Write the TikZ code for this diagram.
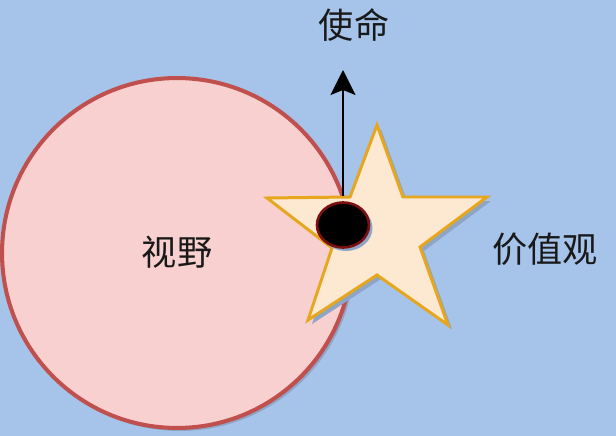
\documentclass[tikz,border=0pt]{standalone}
\usepackage{fontspec}
\setmainfont{Noto Sans CJK SC}
\usetikzlibrary{positioning}
\usetikzlibrary{arrows.meta}
\definecolor{bgblue}{HTML}{A6C3EA}
\definecolor{shadowblue}{HTML}{8DA5C6}
\definecolor{ringred}{HTML}{C0504D}
\definecolor{pinkfill}{HTML}{F7D0CF}
\definecolor{stargold}{HTML}{E6A71E}
\definecolor{starfill}{HTML}{FDE8D2}
\definecolor{dotrim}{HTML}{7A1010}
\tikzset{
	label/.style={font=\fontsize{20pt}{24pt}\selectfont, text=black!90, inner sep=0pt},
	ring/.style={draw=ringred, fill=pinkfill, line width=2.3pt},
	starline/.style={draw=stargold, fill=starfill, line width=1.7pt, line join=miter},
	pointer/.style={-{Stealth[length=5mm,width=5mm,inset=1mm]}, line width=1.1pt},
}

\begin{document}
\begin{tikzpicture}[x=0.02cm,y=-0.02cm]
	% background
	\fill[bgblue] (0,0) rectangle (616,436);
	\useasboundingbox (0,0) rectangle (616,436);
	
	% circle
	\fill[shadowblue] (180,256) circle [radius=3.5cm];
	\draw[ring] (177,253) circle [radius=3.5cm];
	\node[label] (vision) at (177,252) {视野};
	
	% star
	\fill[shadowblue] (381,129) -- (407,201) -- (491,201) -- (424,251) -- (452,329) -- (381,279) -- (312,324) -- (336,252) -- (271,202) -- (354,201) -- cycle;
	\draw[starline] (377,125) -- (403,197) -- (487,197) -- (420,247) -- (448,325) -- (377,275) -- (308,320) -- (332,248) -- (267,198) -- (350,197) -- cycle;
	\node[label] (values) at (545,249) {价值观};
	
	% dot
	\fill[shadowblue] (346,228) ellipse [x radius=0.53cm, y radius=0.46cm];
	\draw[dotrim, fill=black, line width=1.5pt] (343,225) ellipse [x radius=0.52cm, y radius=0.45cm];
	
	% mission arrow
	\coordinate (base) at (343,196);
	\coordinate (tip) at (343,70);
	\draw[pointer] (base) -- (tip);
	\node[label] (mission) at (354,25) {使命};
	
\end{tikzpicture}
\end{document}
